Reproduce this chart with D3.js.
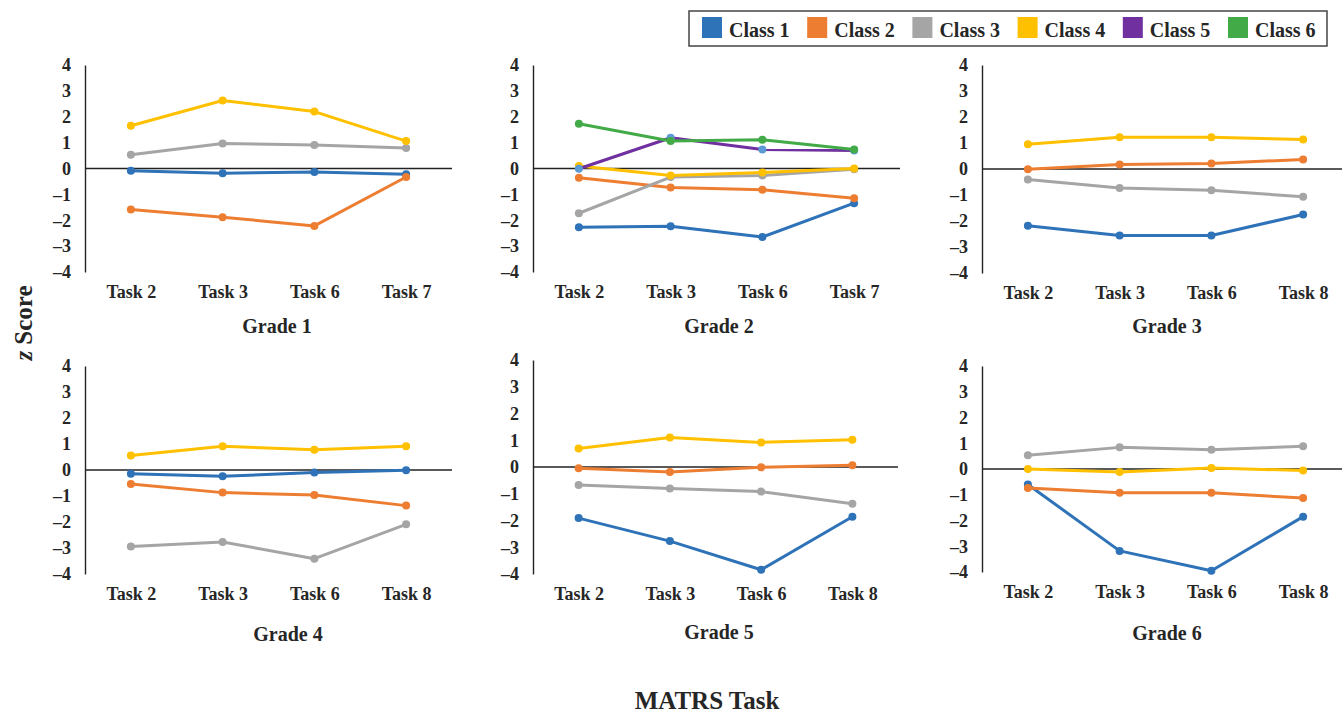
<!DOCTYPE html>
<html>
<head>
<meta charset="utf-8">
<script src="https://cdn.jsdelivr.net/npm/d3@7"></script>
<style>
  body { margin: 0; background: #fff; }
  svg text { font-family: "Liberation Serif", "Times New Roman", serif; font-weight: bold; fill: #262626; }
</style>
</head>
<body>
<div id="main"></div>
<script>
// categories
const grades = ['Grade 1', 'Grade 2', 'Grade 3', 'Grade 4', 'Grade 5', 'Grade 6'];
const gradeTasks = [
    ['Task 2', 'Task 3', 'Task 6', 'Task 7'],
    ['Task 2', 'Task 3', 'Task 6', 'Task 7'],
    ['Task 2', 'Task 3', 'Task 6', 'Task 8'],
    ['Task 2', 'Task 3', 'Task 6', 'Task 8'],
    ['Task 2', 'Task 3', 'Task 6', 'Task 8'],
    ['Task 2', 'Task 3', 'Task 6', 'Task 8']
];
const classes = ['Class 1', 'Class 2', 'Class 3', 'Class 4', 'Class 5', 'Class 6'];
const yTicks = [4, 3, 2, 1, 0, -1, -2, -3, -4];

// z scores, one row per grade (null = class not present in that grade)
const class1 = [
    [-0.09, -0.18, -0.14, -0.22],
    [-2.27, -2.23, -2.65, -1.34],
    [-2.18, -2.56, -2.56, -1.75],
    [-0.14, -0.24, -0.10, -0.01],
    [-1.91, -2.77, -3.84, -1.86],
    [-0.60, -3.18, -3.95, -1.85]
];
const class2 = [
    [-1.58, -1.88, -2.22, -0.33],
    [-0.36, -0.73, -0.82, -1.15],
    [-0.01, 0.17, 0.21, 0.37],
    [-0.54, -0.87, -0.96, -1.37],
    [-0.05, -0.19, -0.01, 0.07],
    [-0.74, -0.92, -0.92, -1.13]
];
const class3 = [
    [0.53, 0.97, 0.91, 0.79],
    [-1.73, -0.33, -0.27, -0.03],
    [-0.40, -0.73, -0.82, -1.07],
    [-2.94, -2.77, -3.41, -2.09],
    [-0.67, -0.80, -0.92, -1.37],
    [0.53, 0.84, 0.75, 0.88]
];
const class4 = [
    [1.65, 2.63, 2.20, 1.06],
    [0.10, -0.27, -0.15, 0.00],
    [0.95, 1.22, 1.22, 1.13],
    [0.56, 0.91, 0.78, 0.91],
    [0.69, 1.10, 0.92, 1.02],
    [0.00, -0.12, 0.04, -0.06]
];
const class5 = [null, [-0.01, 1.19, 0.73, 0.70], null, null, null, null];
const class6 = [null, [1.73, 1.06, 1.11, 0.73], null, null, null, null];

const allClasses = [class1, class2, class3, class4, class5, class6];
const lineColors = ['#2e72b8', '#ed7d31', '#a5a5a5', '#ffc000', '#7030a0', '#43aa48'];
const dotColors = ['#2e72b8', '#ed7d31', '#a5a5a5', '#ffc000', '#5b9bd5', '#43aa48'];

// panel placement
const panels = [
    { x: 85,  top: 65,  bottom: 272, w: 367, titleX: 277,  titleY: 333 },
    { x: 533, top: 65,  bottom: 272, w: 367, titleX: 719,  titleY: 333 },
    { x: 982, top: 65,  bottom: 273, w: 367, titleX: 1167, titleY: 333 },
    { x: 85,  top: 366, bottom: 574, w: 367, titleX: 288,  titleY: 641 },
    { x: 533, top: 360, bottom: 574, w: 365, titleX: 719,  titleY: 639 },
    { x: 982, top: 366, bottom: 572, w: 367, titleX: 1167, titleY: 640 }
];

const W = 1342, H = 713;

const svg = d3.select('#main').append('svg')
    .attr('width', W)
    .attr('height', H);

const fmt = d => (d < 0 ? '\u2013' + Math.abs(d) : String(d));

grades.forEach((grade, gi) => {
    const p = panels[gi];
    const tasks = gradeTasks[gi];

    const x = d3.scalePoint().domain(tasks).range([p.x, p.x + p.w]).padding(0.5);
    const y = d3.scaleLinear().domain([-4, 4]).range([p.bottom, p.top]);

    const g = svg.append('g');

    // y axis with labels
    const yAx = g.append('g')
        .attr('transform', 'translate(' + p.x + ',0)')
        .call(d3.axisLeft(y).tickValues(yTicks).tickSize(0).tickSizeOuter(0).tickPadding(14).tickFormat(fmt));
    yAx.select('.domain').attr('stroke', '#222').attr('stroke-width', 1.4);
    yAx.selectAll('text').style('font-size', '18px').attr('fill', '#262626');

    // zero line
    const zAx = g.append('g')
        .attr('transform', 'translate(0,' + y(0) + ')')
        .call(d3.axisBottom(x).tickValues([]).tickSizeOuter(0));
    zAx.select('.domain').attr('stroke', '#222').attr('stroke-width', 1.4)
        .attr('d', 'M' + p.x + ',0H' + (p.x + p.w));

    // task labels
    const xAx = g.append('g')
        .attr('transform', 'translate(0,' + p.bottom + ')')
        .call(d3.axisBottom(x).tickSize(0).tickPadding(13));
    xAx.select('.domain').remove();
    xAx.selectAll('text').style('font-size', '18px').attr('fill', '#262626');

    // series
    const line = d3.line().x((d, i) => x(tasks[i])).y(d => y(d));
    allClasses.forEach((cls, ci) => {
        const vals = cls[gi];
        if (!vals) return;
        g.append('path')
            .attr('d', line(vals))
            .attr('fill', 'none')
            .attr('stroke', lineColors[ci])
            .attr('stroke-width', 3)
            .attr('stroke-linejoin', 'round');
        g.selectAll(null)
            .data(vals)
            .enter()
            .append('circle')
            .attr('cx', (d, i) => x(tasks[i]))
            .attr('cy', d => y(d))
            .attr('r', 4)
            .attr('fill', dotColors[ci]);
    });

    // grade title
    g.append('text')
        .attr('x', p.titleX)
        .attr('y', p.titleY)
        .attr('text-anchor', 'middle')
        .style('font-size', '20px')
        .text(grade);
});

// y title
const yt = svg.append('text')
    .attr('transform', 'translate(32,323) rotate(-90)')
    .attr('text-anchor', 'middle')
    .style('font-size', '25px');
yt.append('tspan').style('font-style', 'italic').text('z');
yt.append('tspan').text(' Score');

// x title
svg.append('text')
    .attr('x', 707)
    .attr('y', 709)
    .attr('text-anchor', 'middle')
    .style('font-size', '25px')
    .text('MATRS Task');

// legend
const legend = svg.append('g');
legend.append('rect')
    .attr('x', 689).attr('y', 11)
    .attr('width', 638).attr('height', 35)
    .attr('fill', '#fff')
    .attr('stroke', '#444')
    .attr('stroke-width', 1.5);

const item = legend.selectAll('g.item')
    .data(classes)
    .enter()
    .append('g')
    .attr('class', 'item')
    .attr('transform', (d, i) => 'translate(' + (702 + i * 105.2) + ',0)');
item.append('rect')
    .attr('y', 17).attr('width', 20).attr('height', 21)
    .attr('fill', (d, i) => lineColors[i]);
item.append('text')
    .attr('x', 27).attr('y', 36.5)
    .style('font-size', '20px')
    .text(d => d);
</script>
</body>
</html>
